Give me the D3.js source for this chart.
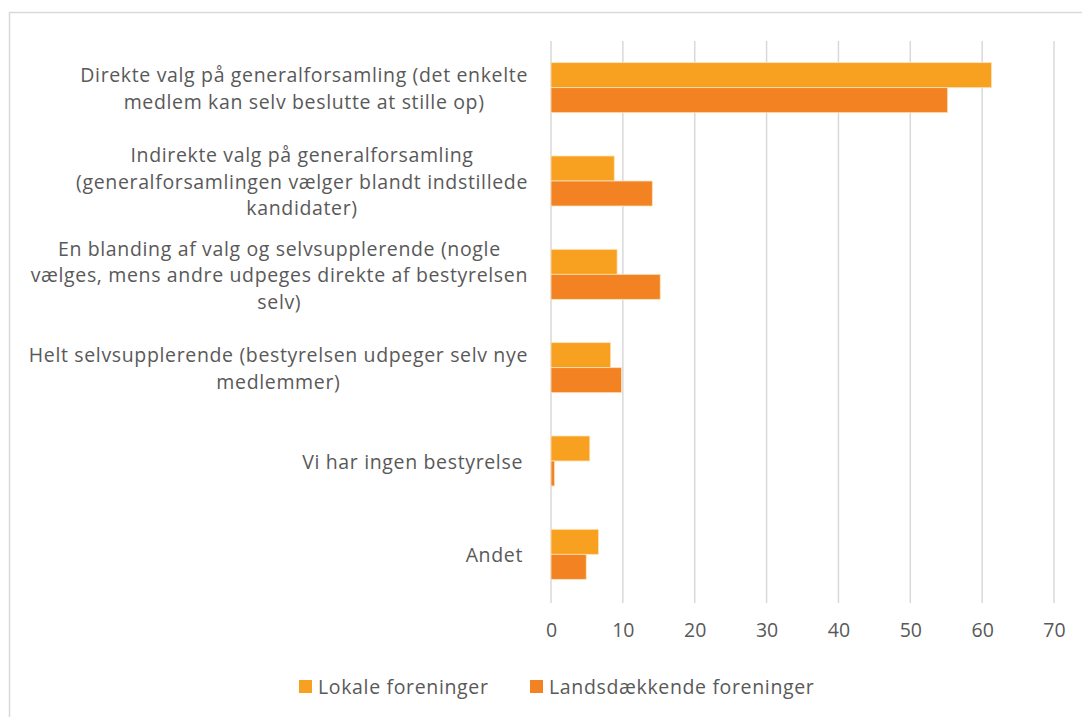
<!DOCTYPE html>
<html lang="da">
<head>
	<meta charset="UTF-8">
	<title>Bestyrelsesvalg</title>
	<script src="https://cdn.jsdelivr.net/npm/d3@7"></script>
	<style>
		body { margin: 0; background: #fff; }
		text { font-family: "Open Sans", Lato, sans-serif; fill: #595959; }
	</style>
</head>
<body>
	<svg id="svg"></svg>
	<script>
		// kategorier (linjer som i originalen)
		var categories = [
			["Direkte valg på generalforsamling (det enkelte", "medlem kan selv beslutte at stille op)"],
			["Indirekte valg på generalforsamling", "(generalforsamlingen vælger blandt indstillede", "kandidater)"],
			["En blanding af valg og selvsupplerende (nogle", "vælges, mens andre udpeges direkte af bestyrelsen", "selv)"],
			["Helt selvsupplerende (bestyrelsen udpeger selv nye", "medlemmer)"],
			["Vi har ingen bestyrelse"],
			["Andet"]
		];
		var seriesNames = ["Lokale foreninger", "Landsdækkende foreninger"];
		var lokale = [61.3, 8.8, 9.2, 8.3, 5.4, 6.6];
		var landsdaekkende = [55.2, 14.1, 15.2, 9.8, 0.5, 4.9];
		var xTicks = [0, 10, 20, 30, 40, 50, 60, 70];
		var colors = ["#f8a01f", "#f38223"];

		var w = 1082, h = 717;
		var svg = d3.select("#svg").attr("width", w).attr("height", h);

		// ramme
		svg.append("rect")
			.attr("x", 9.5).attr("y", 12.5)
			.attr("width", 1100).attr("height", 800)
			.attr("fill", "none").attr("stroke", "#d9d9d9").attr("stroke-width", 1.5);

		var plotLeft = 551, plotRight = 1054, plotTop = 41, plotBottom = 601;
		var fs = "19.5px", ls = "0.65px";

		var x = d3.scaleLinear().domain([0, 70]).range([plotLeft, plotRight]);
		var y = d3.scaleBand().domain(d3.range(categories.length)).range([plotTop, plotBottom]);
		var inner = d3.scaleBand().domain([0, 1]).range([0, 50]);

		// gitterlinjer
		svg.append("g").selectAll("line")
			.data(xTicks).enter().append("line")
			.attr("x1", function(d) { return x(d); })
			.attr("x2", function(d) { return x(d); })
			.attr("y1", plotTop).attr("y2", plotBottom + 2)
			.attr("stroke", "#d9d9d9").attr("stroke-width", 1.5);

		// akse
		var axis = svg.append("g")
			.attr("transform", "translate(0," + plotBottom + ")")
			.call(d3.axisBottom(x).tickValues(xTicks).tickSize(0).tickPadding(22));
		axis.select(".domain").remove();
		axis.selectAll("text").style("font-size", fs).attr("fill", "#595959")
			.style("font-family", "'Open Sans', Lato, sans-serif");

		// søjler
		var data = [lokale, landsdaekkende];
		data.forEach(function(vals, s) {
			svg.append("g").selectAll("rect")
				.data(vals).enter().append("rect")
				.attr("x", x(0))
				.attr("y", function(d, i) { return y(i) + y.bandwidth() / 2 - 25 + inner(s); })
				.attr("width", function(d) { return x(d) - x(0); })
				.attr("height", inner.bandwidth())
				.attr("fill", colors[s])
				.attr("stroke", "#fde2bb").attr("stroke-width", 0.8);
		});

		// kategoritekster
		var lineH = 26.5;
		categories.forEach(function(lines, i) {
			var g = svg.append("g");
			var cy = y(i) + y.bandwidth() / 2 + 1;
			var texts = lines.map(function(l, k) {
				return g.append("text")
					.attr("y", cy + (k - (lines.length - 1) / 2) * lineH)
					.attr("dy", "0.35em")
					.attr("text-anchor", "middle")
					.style("font-size", fs)
					.style("letter-spacing", ls)
					.text(l);
			});
			var rightEdge = lines.length > 1 ? 528 : 523;
			var maxW = d3.max(texts, function(t) { return t.node().getComputedTextLength(); });
			var cx = rightEdge - maxW / 2;
			texts.forEach(function(t) { t.attr("x", cx); });
		});

		// forklaring
		var legendX = [299, 530];
		seriesNames.forEach(function(name, s) {
			var g = svg.append("g").attr("transform", "translate(" + legendX[s] + ",680)");
			g.append("rect").attr("width", 13).attr("height", 13).attr("fill", colors[s]);
			g.append("text").attr("x", 19).attr("y", 7).attr("dy", "0.35em")
				.style("font-size", fs).style("letter-spacing", ls).text(name);
		});
	</script>
</body>
</html>
